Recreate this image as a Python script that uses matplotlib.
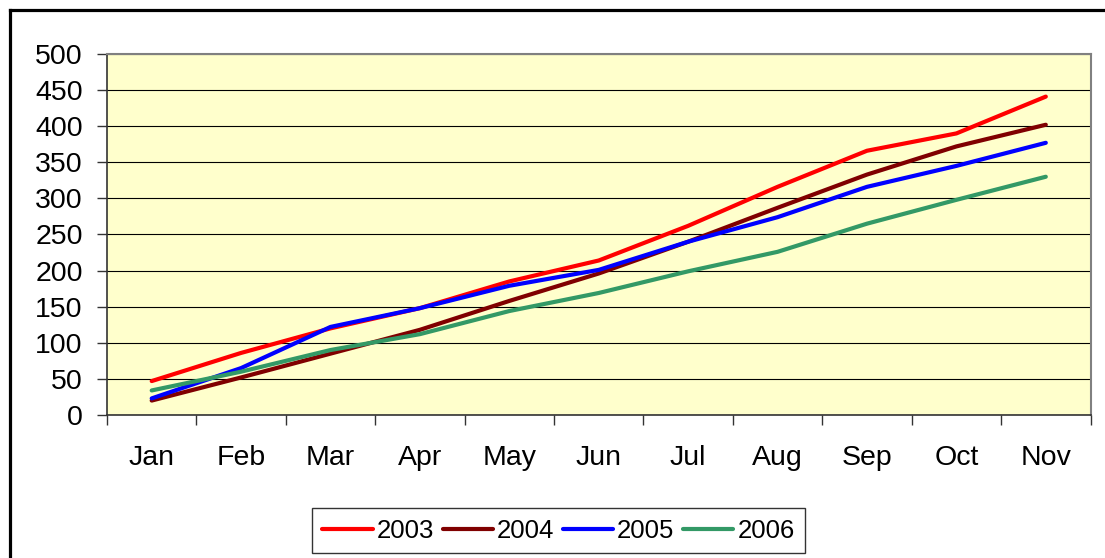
import matplotlib
matplotlib.use("Agg")
import matplotlib.pyplot as plt
from matplotlib.lines import Line2D

# -----------------------------
# DATA
# -----------------------------
months = ["Jan", "Feb", "Mar", "Apr", "May", "Jun", "Jul", "Aug", "Sep", "Oct", "Nov"]
y2003 = [47, 86, 120, 148, 185, 214, 262, 316, 366, 390, 441]
y2004 = [20, 52, 85, 118, 158, 196, 240, 287, 333, 372, 402]
y2005 = [23, 65, 122, 148, 179, 201, 240, 274, 316, 345, 377]
y2006 = [34, 60, 90, 112, 144, 169, 199, 226, 265, 298, 330]

series = [("2003", y2003, "#FF0000"),
          ("2004", y2004, "#800000"),
          ("2005", y2005, "#0000FF"),
          ("2006", y2006, "#339966")]

plt.rcParams['font.family'] = ['Liberation Sans', 'DejaVu Sans']
FS = 20.5

# -----------------------------
# FIGURE
# -----------------------------
W, H = 1105, 558
fig = plt.figure(figsize=(W / 100, H / 100), dpi=100)

# outer chart border (left + top visible, rest cropped)
fig.add_artist(Line2D([9.5 / W, 9.5 / W], [0, 1 - 9.5 / H], transform=fig.transFigure,
                      color="black", lw=2.3, solid_capstyle="projecting"))
fig.add_artist(Line2D([9.5 / W, 1], [1 - 9.5 / H, 1 - 9.5 / H], transform=fig.transFigure,
                      color="black", lw=2.3, solid_capstyle="projecting"))

ax = fig.add_axes([107 / W, (H - 415) / H, (1090.5 - 107) / W, (415 - 54) / H])
ax.set_facecolor("#FFFFCC")

x = list(range(len(months)))
for name, vals, col in series:
    ax.plot(x, vals, color=col, lw=3.0, label=name, solid_capstyle="round")

ax.set_xlim(-0.5, len(months) - 0.5)
ax.set_ylim(0, 500)
ax.set_yticks(range(0, 501, 50))
ax.yaxis.grid(True, color="black", lw=0.8)
ax.set_axisbelow(True)

ax.set_xticks(x)
ax.set_xticklabels(months)
ax.set_xticks([i - 0.5 for i in range(len(months) + 1)], minor=True)
ax.tick_params(axis="x", which="major", length=0, pad=21.5, labelsize=FS)
ax.tick_params(axis="x", which="minor", length=7, width=1, color="#333333")
ax.tick_params(axis="y", length=7, width=1, color="#333333", pad=10.5, labelsize=FS)

for side in ["top", "right"]:
    ax.spines[side].set_color("#808080")
    ax.spines[side].set_linewidth(1.5)
for side in ["left", "bottom"]:
    ax.spines[side].set_color("#333333")
    ax.spines[side].set_linewidth(1.2)

leg = fig.legend(loc="center", bbox_to_anchor=(558.5 / W, 1 - 530.5 / H), ncol=4,
                 fontsize=18.5, frameon=True, fancybox=False, edgecolor="black",
                 handlelength=1.95, handletextpad=0.15, columnspacing=0.35,
                 borderpad=0.4)
leg.get_frame().set_linewidth(1.0)

fig.savefig("out.png", dpi=100, facecolor="white")
